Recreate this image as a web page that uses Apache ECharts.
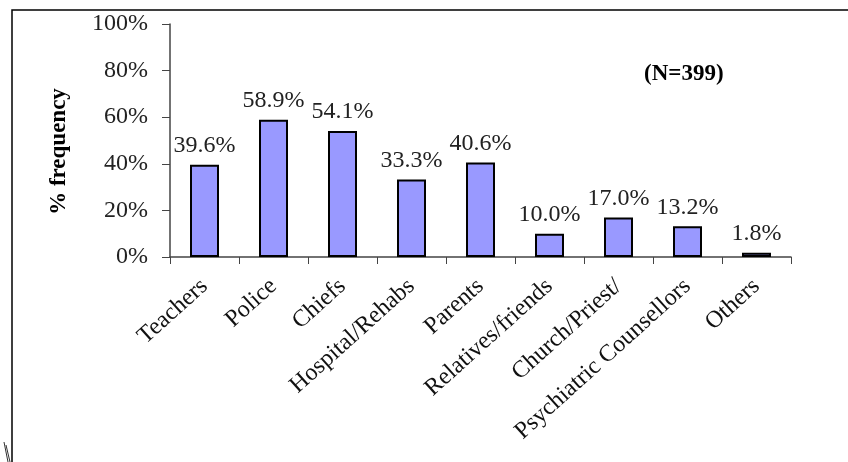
<!DOCTYPE html>
<html>
<head>
<meta charset="utf-8">
<script src="https://cdn.jsdelivr.net/npm/echarts@6/dist/echarts.min.js"></script>
<style>
  html, body { margin: 0; padding: 0; background: #fff; }
  #chart { width: 848px; height: 462px; }
</style>
</head>
<body>
<div id="chart"></div>
<script>
// categories and values
const categories = ['Teachers', 'Police', 'Chiefs', 'Hospital/Rehabs', 'Parents',
    'Relatives/friends', 'Church/Priest/', 'Psychiatric Counsellors', 'Others'];
const frequency = [39.6, 58.9, 54.1, 33.3, 40.6, 10.0, 17.0, 13.2, 1.8];
const yTicks = [0, 20, 40, 60, 80, 100];
const sampleNote = '(N=399)';

const serif = 'Liberation Serif, serif';

var chart = echarts.init(document.getElementById('chart'));

var option = {
    backgroundColor: '#fff',
    animation: false,
    title: {
        text: sampleNote,
        left: 639,
        top: 58,
        textStyle: { fontFamily: serif, fontWeight: 'bold', fontSize: 23, color: '#000' }
    },
    grid: {
        left: 170,
        right: 57,
        top: 24,
        bottom: 205
    },
    xAxis: {
        type: 'category',
        data: categories,
        axisLine: { lineStyle: { color: '#444', width: 1.5 } },
        axisTick: { show: true, length: 7, lineStyle: { color: '#444', width: 1 } },
        axisLabel: {
            interval: 0,
            rotate: 42,
            margin: 26,
            fontFamily: serif,
            fontSize: 24,
            color: '#111'
        }
    },
    yAxis: {
        type: 'value',
        min: yTicks[0],
        max: yTicks[yTicks.length - 1],
        interval: yTicks[1] - yTicks[0],
        name: '% frequency',
        nameLocation: 'middle',
        nameRotate: 90,
        nameGap: 99,
        nameTextStyle: {
            fontFamily: serif, fontWeight: 'bold', fontSize: 23, color: '#000',
            padding: [0, 22, 0, 0]
        },
        splitLine: { show: false },
        axisLine: { show: true, lineStyle: { color: '#444', width: 1.5 } },
        axisTick: { show: true, length: 8, lineStyle: { color: '#444', width: 1 } },
        axisLabel: {
            margin: 22,
            fontFamily: serif,
            fontSize: 24,
            color: '#222',
            formatter: '{value}%'
        }
    },
    series: [{
        type: 'bar',
        data: frequency,
        barWidth: 29,
        itemStyle: { color: '#9999ff', borderColor: '#000', borderWidth: 2 },
        label: {
            show: true,
            position: 'top',
            distance: 7,
            fontFamily: serif,
            fontSize: 24,
            color: '#222',
            formatter: (p) => p.value.toFixed(1) + '%'
        }
    }],
    graphic: [
        // frame round the chart (left and top edges are visible)
        { type: 'polyline', shape: { points: [[12, 462], [12, 10], [848, 10]] },
          style: { stroke: '#000', lineWidth: 1.5, fill: null } },
        // scan marks at the bottom left corner
        { type: 'line', shape: { x1: 4, y1: 442, x2: 8, y2: 462 }, style: { stroke: '#333', lineWidth: 1 } },
        { type: 'line', shape: { x1: 6, y1: 445, x2: 10, y2: 462 }, style: { stroke: '#333', lineWidth: 1 } }
    ]
};

chart.setOption(option);
</script>
</body>
</html>
